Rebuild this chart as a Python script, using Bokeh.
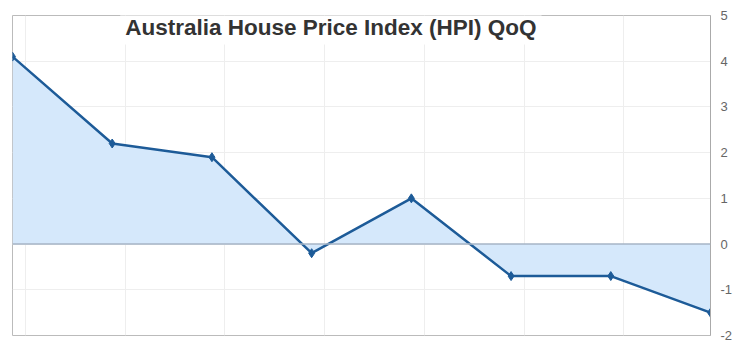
from bokeh.plotting import figure
from bokeh.models import Range1d, LinearAxis, FixedTicker, Span, Label, ColumnDataSource
from bokeh.embed import file_html
from bokeh.resources import INLINE

quarters = [0, 1, 2, 3, 4, 5, 6, 7]
hpi_qoq = [4.1, 2.2, 1.9, -0.2, 1.0, -0.7, -0.7, -1.5]
y_ticks = [-2, -1, 0, 1, 2, 3, 4, 5]
title_text = "Australia House Price Index (HPI) QoQ"

src = ColumnDataSource(dict(x=quarters, y=hpi_qoq, zero=[0] * len(quarters)))

p = figure(width=736, height=343, output_backend="svg", toolbar_location=None,
           x_range=Range1d(0, 7), y_range=Range1d(-2, 5),
           min_border_left=12, min_border_right=26, min_border_top=15, min_border_bottom=8)
p.xaxis.visible = False
p.yaxis.visible = False
p.outline_line_color = "#bbbbbb"
p.background_fill_color = "white"
p.border_fill_color = "white"

p.xgrid.ticker = FixedTicker(ticks=[q + 0.13 for q in quarters[:-1]])
p.ygrid.ticker = FixedTicker(ticks=y_ticks)
p.xgrid.grid_line_color = "#eeeeee"
p.ygrid.grid_line_color = "#eeeeee"

ax = LinearAxis(ticker=FixedTicker(ticks=y_ticks))
ax.axis_line_color = "#aaaaaa"
ax.major_tick_line_color = None
ax.minor_tick_line_color = None
ax.major_label_text_color = "#666666"
ax.major_label_text_font = "Liberation Sans"
ax.major_label_text_font_size = "13px"
ax.major_label_standoff = 4
ax.major_label_overrides = {t: str(t) for t in y_ticks}
p.add_layout(ax, "right")

p.varea(x="x", y1="zero", y2="y", source=src, fill_color="#d5e8fb", fill_alpha=1)
p.add_layout(Span(location=0, dimension="width", line_color="#a6b4c6", line_width=1.5))
p.line(x="x", y="y", source=src, line_color="#1d5b98", line_width=2.5)
p.scatter(x="x", y="y", source=src, marker="diamond", size=9, fill_color="#1d5b98", line_color="#1d5b98")

p.add_layout(Label(x=1.08, y=5.13, text=title_text, text_baseline="top", text_align="left",
                   text_font="Liberation Sans", text_font_style="bold", text_font_size="22.5px",
                   text_color="#333333", background_fill_color="white", padding=5))

open("out.html", "w").write(file_html(p, INLINE))
